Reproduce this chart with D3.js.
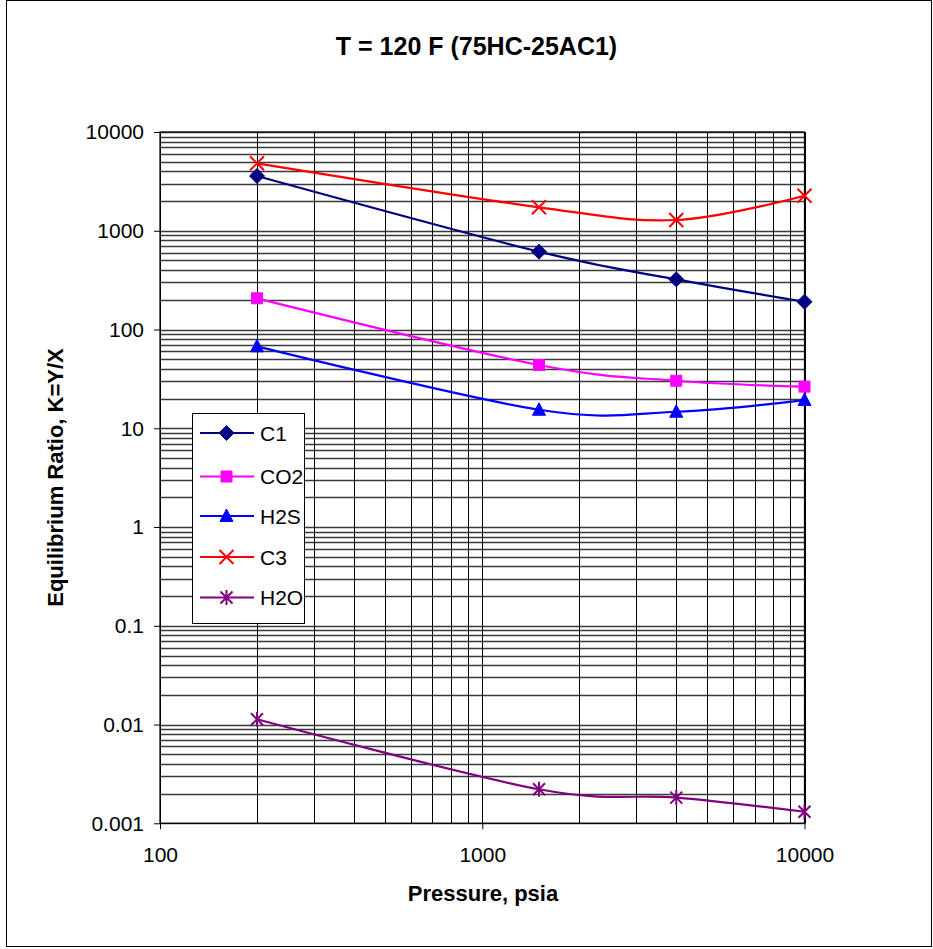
<!DOCTYPE html>
<html>
<head>
<meta charset="utf-8">
<script src="https://cdn.jsdelivr.net/npm/d3@7"></script>
<style>
  html, body { margin: 0; padding: 0; background: #fff; }
  svg { display: block; font-family: "Liberation Sans", Arial, sans-serif; }
</style>
</head>
<body>
<svg id="chart" width="933" height="949"></svg>
<script>
// ---------- data ----------
const pressures = [200, 1500, 4000, 10000];
const seriesNames = ["C1", "CO2", "H2S", "C3", "H2O"];
const c1Values  = [3585, 614, 322, 191];
const co2Values = [207, 43.7, 30.3, 26.4];
const h2sValues = [67.6, 15.4, 14.7, 19.3];
const c3Values  = [4820, 1728, 1285, 2265];
const h2oValues = [0.0113, 0.00221, 0.00182, 0.00131];
const xTickValues = [100, 1000, 10000];
const xTickLabels = ["100", "1000", "10000"];
const yTickValues = [0.001, 0.01, 0.1, 1, 10, 100, 1000, 10000];
const yTickLabels = ["0.001", "0.01", "0.1", "1", "10", "100", "1000", "10000"];
const titleText = "T = 120 F (75HC-25AC1)";
const xTitle = "Pressure, psia";
const yTitle = "Equilibrium Ratio, K=Y/X";

// ---------- styles ----------
const seriesStyle = {
  C1:  { color: "#000080", marker: "diamond" },
  CO2: { color: "#FF00FF", marker: "square" },
  H2S: { color: "#0000FF", marker: "triangle" },
  C3:  { color: "#FF0000", marker: "x" },
  H2O: { color: "#800080", marker: "star" }
};
const seriesValues = { C1: c1Values, CO2: co2Values, H2S: h2sValues, C3: c3Values, H2O: h2oValues };

const svg = d3.select("#chart");
const L = 160, R = 804.5, T = 132, B = 823.3;

const x = d3.scaleLog().domain([100, 10000]).range([L, R]);
const y = d3.scaleLog().domain([0.001, 10000]).range([B, T]);

// outer border
svg.append("rect").attr("x", 6.5).attr("y", 0.5).attr("width", 925).attr("height", 946)
  .attr("fill", "none").attr("stroke", "#000").attr("stroke-width", 1);

// title
svg.append("text").attr("x", 476.5).attr("y", 54.5).attr("text-anchor", "middle")
  .attr("font-size", 25).attr("font-weight", "bold").text(titleText);

// gridlines
const minorVals = (lo, hi) => {
  const out = [];
  for (let d = lo; d < hi; d *= 10) for (let k = 1; k <= 10; k++) out.push(d * k);
  return Array.from(new Set(out.map(v => +v.toPrecision(6))));
};
const gx = minorVals(100, 10000);
const gy = minorVals(0.001, 10000);
const grid = svg.append("g");
grid.selectAll("line.h").data(gy).enter().append("line")
  .attr("x1", L).attr("x2", R)
  .attr("y1", d => Math.round(y(d)) + 0.5).attr("y2", d => Math.round(y(d)) + 0.5)
  .attr("stroke", "#3a3a3a").attr("stroke-width", 1.4);
grid.selectAll("line.v").data(gx).enter().append("line")
  .attr("y1", T).attr("y2", B)
  .attr("x1", d => Math.round(x(d)) + 0.5).attr("x2", d => Math.round(x(d)) + 0.5)
  .attr("stroke", "#000").attr("stroke-width", 1);

// plot frame
svg.append("rect").attr("x", L).attr("y", T).attr("width", R - L).attr("height", B - T)
  .attr("fill", "none").attr("stroke", "#000").attr("stroke-width", 1.2);

// axes
const yAxis = d3.axisLeft(y).tickValues(yTickValues)
  .tickFormat((d, i) => yTickLabels[i]).tickSize(6).tickPadding(10);
const gya = svg.append("g").attr("transform", `translate(${L},0)`).call(yAxis);
gya.select(".domain").remove();
gya.selectAll("text").attr("font-size", 21).attr("fill", "#000")
  .attr("font-family", "'Liberation Sans', Arial, sans-serif");
gya.selectAll("line").attr("stroke", "#000");

const xAxis = d3.axisBottom(x).tickValues(xTickValues)
  .tickFormat((d, i) => xTickLabels[i]).tickSize(6).tickPadding(18);
const gxa = svg.append("g").attr("transform", `translate(0,${B})`).call(xAxis);
gxa.select(".domain").remove();
gxa.selectAll("text").attr("font-size", 21).attr("fill", "#000")
  .attr("font-family", "'Liberation Sans', Arial, sans-serif");
gxa.selectAll("line").attr("stroke", "#000");

// axis titles
svg.append("text").attr("x", 483).attr("y", 901).attr("text-anchor", "middle")
  .attr("font-size", 22).attr("font-weight", "bold").text(xTitle);
svg.append("text").attr("transform", "translate(62.5,477.5) rotate(-90)")
  .attr("text-anchor", "middle").attr("font-size", 22).attr("font-weight", "bold").text(yTitle);

// marker paths
function markerPath(type) {
  switch (type) {
    case "diamond": return "M0,-7.5L7.5,0L0,7.5L-7.5,0Z";
    case "square": return "M-5.5,-5.5H5.5V5.5H-5.5Z";
    case "triangle": return "M0,-7L6.5,5.5H-6.5Z";
    case "x": return "M-7,-7L7,7M-7,7L7,-7";
    case "star": return "M-6,-6L6,6M-6,6L6,-6M0,-7.5V7.5";
  }
}
function drawMarker(g, type, color, cx, cy) {
  const filled = type === "diamond" || type === "square" || type === "triangle";
  g.append("path").attr("d", markerPath(type)).attr("transform", `translate(${cx},${cy})`)
    .attr("fill", filled ? color : "none").attr("stroke", color)
    .attr("stroke-width", filled ? 1 : 2);
}

// series (Excel-style smoothing: Bezier with 1/6 neighbour tangents)
const line = d3.line().x(d => x(d[0])).y(d => y(d[1])).curve(d3.curveCardinal.tension(0));
const plot = svg.append("g");
seriesNames.forEach(name => {
  const st = seriesStyle[name];
  const pts = pressures.map((p, i) => [p, seriesValues[name][i]]);
  plot.append("path").datum(pts).attr("d", line).attr("fill", "none")
    .attr("stroke", st.color).attr("stroke-width", 2.2);
  const mg = plot.append("g");
  pts.forEach(p => drawMarker(mg, st.marker, st.color, x(p[0]), y(p[1])));
});

// legend
const lg = svg.append("g");
lg.append("rect").attr("x", 192.5).attr("y", 413.5).attr("width", 112).attr("height", 210)
  .attr("fill", "#fff").attr("stroke", "#000").attr("stroke-width", 1);
const legendY = [433, 476.5, 516, 557, 597.5];
seriesNames.forEach((name, i) => {
  const st = seriesStyle[name];
  const ly = legendY[i];
  lg.append("line").attr("x1", 200).attr("x2", 254).attr("y1", ly).attr("y2", ly)
    .attr("stroke", st.color).attr("stroke-width", 2.2);
  drawMarker(lg, st.marker, st.color, 226.5, ly);
  lg.append("text").attr("x", 260).attr("y", ly + 7.5).attr("font-size", 21).text(name);
});
</script>
</body>
</html>
